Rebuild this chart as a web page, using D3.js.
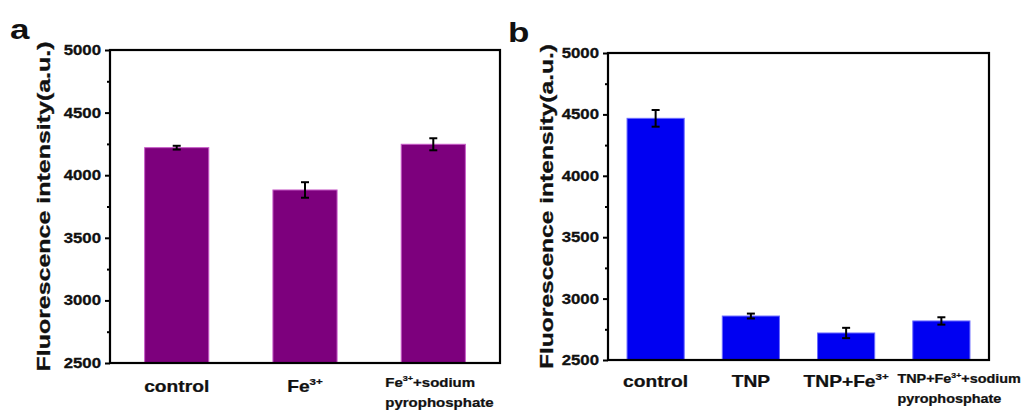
<!DOCTYPE html>
<html>
<head>
<meta charset="utf-8">
<script src="https://cdn.jsdelivr.net/npm/d3@7"></script>
<style>
  body { margin: 0; background: #fff; }
  svg { display: block; }
  text { font-family: "Liberation Sans", Arial, sans-serif; font-weight: bold; fill: #111; }
</style>
</head>
<body>
<svg id="chart" width="1024" height="412"></svg>
<script>
// panel a
const catsA = ["control", "Fe^{3+}", "Fe^{3+}+sodium\npyrophosphate"];
const valsA = [4220, 3882, 4247];
const errA = [15, 62, 48];

// panel b
const catsB = ["control", "TNP", "TNP+Fe^{3+}", "TNP+Fe^{3+}+sodium\npyrophosphate"];
const valsB = [4468, 2858, 2720, 2818];
const errB = [68, 20, 42, 30];

const yMajor = [2500, 3000, 3500, 4000, 4500, 5000];
const yMinor = [2750, 3250, 3750, 4250, 4750];
const yTitle = "Fluorescence intensity(a.u.)";

const svg = d3.select("#chart");
const SX = 1.2; // the original figure is a bit wide

// split "Fe^{3+}" into normal / superscript pieces
function pieces(str) {
    const out = [];
    const re = /\^\{([^}]*)\}/g;
    let last = 0, m;
    while ((m = re.exec(str)) !== null) {
        if (m.index > last) out.push({ t: str.slice(last, m.index), sup: false });
        out.push({ t: m[1], sup: true });
        last = re.lastIndex;
    }
    if (last < str.length) out.push({ t: str.slice(last), sup: false });
    return out;
}

function panel(opt) {
    const { cats, vals, errs, x0, x1, y0, y1, pad, outer, fill, edge, letter } = opt;

    const x = d3.scaleBand().domain(cats).range([x0, x1]).paddingInner(pad).paddingOuter(outer);
    const y = d3.scaleLinear().domain([2500, 5000]).range([y1, y0]);

    const g = svg.append("g");

    // bars
    g.selectAll("rect.bar").data(cats).join("rect")
        .attr("class", "bar")
        .attr("x", d => x(d))
        .attr("y", (d, i) => y(vals[i]))
        .attr("width", x.bandwidth())
        .attr("height", (d, i) => y(2500) - y(vals[i]))
        .attr("fill", fill)
        .attr("stroke", edge)
        .attr("stroke-width", 1);

    // error bars
    const eb = g.selectAll("g.err").data(cats).join("g").attr("class", "err");
    eb.append("line")
        .attr("x1", d => x(d) + x.bandwidth() / 2).attr("x2", d => x(d) + x.bandwidth() / 2)
        .attr("y1", (d, i) => y(vals[i] - errs[i])).attr("y2", (d, i) => y(vals[i] + errs[i]));
    [-1, 1].forEach(s => {
        eb.append("line")
            .attr("x1", d => x(d) + x.bandwidth() / 2 - 4).attr("x2", d => x(d) + x.bandwidth() / 2 + 4)
            .attr("y1", (d, i) => y(vals[i] + s * errs[i])).attr("y2", (d, i) => y(vals[i] + s * errs[i]));
    });
    eb.selectAll("line").attr("stroke", "#000").attr("stroke-width", 2);

    // frame
    g.append("rect")
        .attr("x", x0).attr("y", y0)
        .attr("width", x1 - x0).attr("height", y1 - y0)
        .attr("fill", "none").attr("stroke", "#000").attr("stroke-width", 2.2);

    // y axis, major + minor ticks
    const ax = g.append("g").attr("transform", `translate(${x0},0)`)
        .call(d3.axisLeft(y).tickValues(yMajor).tickSize(5).tickPadding(4).tickFormat(d3.format("d")));
    ax.select(".domain").remove();
    ax.selectAll(".tick line").attr("stroke", "#000").attr("stroke-width", 2);
    ax.selectAll(".tick text")
        .attr("font-size", 14).attr("font-family", null).attr("fill", "#111")
        .attr("stroke", "#111").attr("stroke-width", 0.3)
        .attr("x", -9 / SX).attr("transform", `scale(${SX},1)`);

    const mn = g.append("g").attr("transform", `translate(${x0},0)`)
        .call(d3.axisLeft(y).tickValues(yMinor).tickSize(3).tickFormat(""));
    mn.select(".domain").remove();
    mn.selectAll(".tick line").attr("stroke", "#000").attr("stroke-width", 2);

    // y title
    g.append("text")
        .attr("transform", `translate(${opt.titleX},${(y0 + y1) / 2}) rotate(-90)`)
        .attr("text-anchor", "middle")
        .attr("dy", "0.35em")
        .attr("font-size", 19)
        .attr("stroke", "#111").attr("stroke-width", 0.3)
        .attr("textLength", opt.titleLen)
        .attr("lengthAdjust", "spacingAndGlyphs")
        .text(yTitle);

    // category labels (two-line ones are left aligned)
    cats.forEach((c, i) => {
        const lines = c.split("\n");
        const multi = lines.length > 1;
        const fs = multi ? opt.multiSize : 16;
        const cx = x(c) + x.bandwidth() / 2 - (multi ? opt.multiLeft : 0);
        lines.forEach((ln, k) => {
            const by = multi ? opt.multiY + k * opt.multiGap : opt.labelY;
            const t = g.append("text")
                .attr("transform", `translate(${cx},${by}) scale(${SX},1)`)
                .attr("text-anchor", multi ? "start" : "middle")
                .attr("font-size", fs)
                .attr("stroke", "#111").attr("stroke-width", 0.25);
            pieces(ln).forEach(p => {
                const ts = t.append("tspan").text(p.t);
                if (p.sup) ts.attr("font-size", fs * 0.6).attr("dy", -fs * 0.45);
                else if (t.selectAll("tspan").size() > 1) ts.attr("dy", fs * 0.45);
            });
        });
    });

    // panel letter
    svg.append("text")
        .attr("transform", `translate(${letter.x},${letter.y}) scale(1.25,1)`)
        .attr("font-family", "'Open Sans', sans-serif")
        .attr("font-weight", 600)
        .attr("font-size", 28)
        .attr("fill", "#000")
        .text(letter.t);
}

panel({
    cats: catsA, vals: valsA, errs: errA,
    x0: 110, x1: 500, y0: 50, y1: 363,
    pad: 0.5, outer: 0.27,
    fill: "#7d007d", edge: "#c85cc8",
    titleX: 43, titleLen: 330,
    labelY: 392, multiY: 387, multiGap: 20, multiLeft: 48, multiSize: 12.5,
    letter: { t: "a", x: 10, y: 39 }
});

panel({
    cats: catsB, vals: valsB, errs: errB,
    x0: 608, x1: 989, y0: 53, y1: 360,
    pad: 0.4, outer: 0.2,
    fill: "#0000f2", edge: "#6a6aff",
    titleX: 546, titleLen: 325,
    labelY: 387, multiY: 383, multiGap: 20, multiLeft: 44, multiSize: 12,
    letter: { t: "b", x: 508, y: 42 }
});
</script>
</body>
</html>
